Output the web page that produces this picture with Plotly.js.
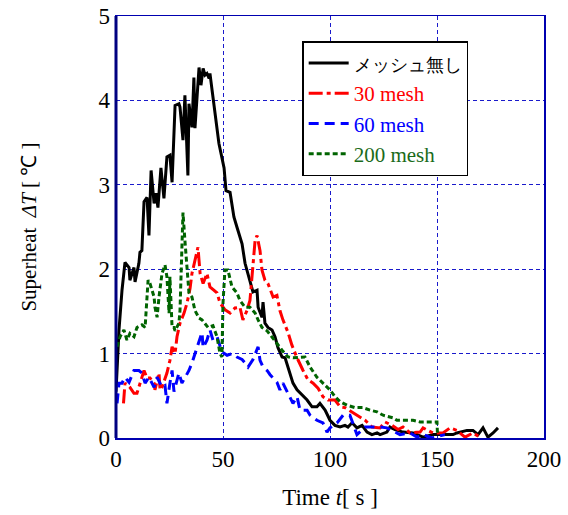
<!DOCTYPE html>
<html>
<head>
<meta charset="utf-8">
<script src="https://cdn.plot.ly/plotly-3.0.1.min.js"></script>
<style>html,body{margin:0;padding:0;background:#fff;}#chart{width:568px;height:515px;}</style>
</head>
<body>
<div id="chart"></div>
<script>
// ---- Data ----
const seriesNames = ['メッシュ無し', '30 mesh', '60 mesh', '200 mesh'];

const tNone = [0, 0.5, 1.4, 2.8, 4.2, 6.1, 6.5, 8.4, 8.9, 10.7, 11.2, 12.1, 13.1, 14.5, 15.4, 16.4, 17.8, 18.7, 19.6, 21.0, 22.4, 23.8, 25.2, 26.2, 27.6, 29.4, 29.9, 31.3, 32.2, 33.6, 34.1, 35.5, 36.4, 36.9, 38.3, 38.8, 39.7, 40.7, 41.6, 42.5, 43.5, 43.9, 44.9, 46.3, 48.1, 50.5, 51.4, 53.3, 55.1, 56.5, 58.9, 60.3, 62.6, 64.0, 65.9, 66.4, 68.2, 68.7, 69.6, 71.0, 72.9, 74.3, 75.7, 77.6, 79.0, 80.4, 82.7, 84.6, 86.9, 89.3, 91.6, 93.9, 95.3, 97.7, 100, 102.3, 104.7, 107, 108.4, 110.3, 112.6, 115, 117.3, 119.6, 122, 123.4, 126.6, 128, 130.4, 134.1, 138.8, 143.5, 148.1, 152.8, 157.5, 159.3, 164, 166.8, 169.2, 171.5, 173.8, 176.2, 178.5];
const vNone = [0.55, 0.8, 1.28, 1.75, 2.08, 2.02, 1.87, 2.02, 1.85, 2.07, 2.2, 2.22, 2.8, 2.85, 2.4, 3.17, 2.78, 2.9, 2.73, 3.2, 2.84, 3.33, 3.35, 3.03, 3.94, 3.96, 3.92, 3.53, 4.06, 3.11, 3.96, 3.68, 4.27, 3.67, 4.2, 4.39, 4.18, 4.38, 4.3, 4.32, 4.26, 4.32, 4.12, 3.85, 3.49, 3.2, 2.93, 2.91, 2.62, 2.5, 2.3, 2.07, 1.87, 1.73, 1.75, 1.55, 1.43, 1.61, 1.36, 1.31, 1.28, 1.2, 1.07, 0.96, 0.95, 0.84, 0.65, 0.57, 0.51, 0.45, 0.37, 0.37, 0.41, 0.33, 0.21, 0.15, 0.13, 0.15, 0.13, 0.18, 0.12, 0.15, 0.07, 0.04, 0.06, 0.04, 0.07, 0.13, 0.1, 0.07, 0.06, 0.01, 0.04, 0.04, 0.04, 0.06, 0.09, 0.09, 0.04, 0.12, 0.01, 0.06, 0.12];

const t30 = [3.5, 4.2, 6.5, 8.4, 9.8, 13.1, 14.5, 15.9, 17.8, 18.2, 20.1, 20.6, 21.5, 23.8, 25.2, 26.2, 27.6, 28.5, 29.9, 31.8, 33.2, 34.6, 35.5, 38.3, 39.3, 40.7, 42.5, 43.9, 47.2, 48.6, 50.9, 53.3, 55.6, 57.9, 59.3, 61.2, 62.6, 64.0, 65.0, 65.9, 67.3, 68.2, 69.6, 71.0, 73.4, 75.2, 76.6, 78.0, 80.4, 82.2, 84.6, 87.4, 89.7, 92.1, 94.4, 96.7, 99.1, 102.3, 104.7, 107, 110.3, 113.1, 116.4, 119.6, 123.4, 125.7, 129, 131.8, 134.1, 137.4, 142.1, 143.5, 148.1, 152.8, 156.1, 159.3, 163.1, 166.8, 170.1];
const v30 = [0.41, 0.65, 0.6, 0.53, 0.53, 0.8, 0.71, 0.71, 0.65, 0.57, 0.77, 0.57, 0.6, 0.77, 0.92, 1.08, 1.0, 1.2, 1.36, 1.48, 1.6, 1.77, 1.95, 2.26, 1.95, 1.83, 1.95, 1.79, 1.72, 1.6, 1.52, 1.48, 1.54, 1.55, 1.4, 1.51, 1.63, 2.07, 2.34, 2.4, 2.22, 1.99, 1.87, 1.83, 1.67, 1.69, 1.51, 1.4, 1.25, 1.1, 0.95, 0.8, 0.69, 0.65, 0.59, 0.49, 0.45, 0.45, 0.37, 0.36, 0.31, 0.27, 0.21, 0.13, 0.12, 0.19, 0.15, 0.1, 0.13, 0.06, 0.07, 0.12, 0.06, 0.06, 0.12, 0.09, 0.01, 0.06, 0.01];

const t60 = [0.5, 1.4, 2.8, 4.2, 6.1, 8.4, 10.7, 12.1, 13.6, 15.4, 16.8, 17.8, 19.2, 21.5, 22.9, 23.8, 25.2, 26.2, 27.1, 28.5, 29.4, 30.8, 32.2, 34.1, 35.5, 36.9, 38.8, 40.2, 40.7, 42.5, 43.9, 45.3, 47.2, 49.5, 51.9, 54.2, 56.5, 58.9, 60.3, 61.7, 64.0, 65.9, 66.4, 67.3, 68.7, 70.6, 72.0, 75.2, 76.6, 78.0, 80.4, 82.7, 84.6, 86.0, 89.3, 90.7, 93.9, 96.7, 98.6, 100, 103.3, 106.1, 109.3, 112.6, 116.4, 119.6, 123.4, 126.6, 130.4, 132.7, 137.4, 140.7, 143.5, 147.7, 153.7];
const v60 = [0.41, 0.65, 0.65, 0.72, 0.66, 0.8, 0.8, 0.77, 0.65, 0.72, 0.65, 0.6, 0.72, 0.6, 0.62, 0.41, 0.65, 0.8, 0.55, 0.69, 0.77, 0.65, 0.72, 0.8, 0.89, 1.0, 1.16, 1.25, 1.07, 1.16, 1.28, 1.16, 1.2, 1.02, 0.98, 1.0, 0.96, 0.93, 0.89, 0.84, 0.93, 1.04, 1.08, 0.92, 0.84, 0.8, 0.75, 0.66, 0.57, 0.65, 0.53, 0.41, 0.49, 0.33, 0.33, 0.27, 0.21, 0.18, 0.07, 0.12, 0.18, 0.27, 0.27, 0.04, 0.13, 0.13, 0.13, 0.12, 0.07, 0.04, 0.06, 0.01, 0.04, 0.0, 0.04];

const t200 = [0.5, 1.4, 1.9, 3.7, 5.1, 6.5, 8.4, 9.8, 12.1, 13.6, 14.5, 15.0, 15.9, 16.8, 17.8, 18.2, 19.2, 20.1, 21.5, 22.9, 23.8, 24.8, 25.2, 26.2, 27.1, 27.6, 29.4, 29.9, 30.8, 31.3, 32.2, 33.2, 34.1, 35.5, 36.9, 38.8, 40.2, 43.0, 45.3, 47.2, 48.6, 49.5, 50.0, 50.9, 52.3, 54.2, 56.5, 57.9, 60.3, 62.6, 65.0, 66.4, 68.2, 70.6, 72.9, 75.2, 77.6, 80.4, 82.7, 86.0, 88.3, 90.7, 93.9, 96.7, 100, 102.3, 104.7, 107.9, 111.7, 115.4, 118.7, 122, 124.8, 129.4, 131.3, 135, 138.8, 142.1, 145.3, 150, 150.2];
const v200 = [1.08, 1.16, 1.2, 1.28, 1.16, 1.24, 1.2, 1.31, 1.34, 1.31, 1.67, 1.87, 1.83, 1.75, 1.67, 1.55, 1.43, 1.67, 1.95, 2.05, 1.91, 1.48, 1.91, 1.31, 1.31, 1.27, 1.36, 1.51, 2.5, 2.67, 2.34, 1.99, 1.72, 1.67, 1.51, 1.42, 1.4, 1.31, 1.33, 1.2, 1.0, 0.96, 1.6, 1.99, 1.99, 1.79, 1.72, 1.63, 1.55, 1.55, 1.48, 1.4, 1.31, 1.27, 1.2, 1.12, 1.04, 0.96, 0.95, 0.96, 0.96, 0.84, 0.72, 0.65, 0.57, 0.49, 0.43, 0.39, 0.36, 0.36, 0.33, 0.31, 0.27, 0.24, 0.21, 0.21, 0.21, 0.19, 0.19, 0.19, 0.06];

const xTicks = [0, 50, 100, 150, 200];
const yTicks = [0, 1, 2, 3, 4, 5];

// ---- Styling ----
const serif = 'Liberation Serif, Times New Roman, serif';
const gridBlue = '#1a1acc';
const frameBlue = '#0000b0';

const traces = [
  {x: tNone, y: vNone, color: '#000000', dash: 'solid', label: '<span style="font-size:18px">' + seriesNames[0] + '</span>'},
  {x: t30, y: v30, color: '#ff0000', dash: '14px,4px,4px,4px', label: '<span style="color:#ff0000">' + seriesNames[1] + '</span>'},
  {x: t60, y: v60, color: '#0000ff', dash: '10px,6px', label: '<span style="color:#0000ff">' + seriesNames[2] + '</span>'},
  {x: t200, y: v200, color: '#006400', dash: '5px,3px', label: '<span style="color:#1a6b1a">' + seriesNames[3] + '</span>'}
].map(s => ({
  type: 'scatter', mode: 'lines', x: s.x, y: s.y, name: s.label,
  line: {color: s.color, width: 3, dash: s.dash}
}));

const layout = {
  width: 568, height: 515,
  margin: {l: 116, r: 24, t: 16, b: 77},
  paper_bgcolor: '#ffffff', plot_bgcolor: '#ffffff',
  font: {family: serif, size: 22, color: '#000'},
  showlegend: true,
  legend: {
    x: 0.435, y: 0.94, xanchor: 'left', yanchor: 'top',
    bgcolor: '#ffffff', bordercolor: '#000000', borderwidth: 1.5,
    font: {family: serif, size: 21, color: '#000'},
    tracegroupgap: 0, itemwidth: 40
  },
  xaxis: {
    range: [0, 200], tickvals: xTicks, ticktext: xTicks.map(String),
    showgrid: true, gridcolor: gridBlue, griddash: '4px,3px', gridwidth: 1,
    showline: true, linecolor: frameBlue, linewidth: 1.5, mirror: true,
    zeroline: false, ticks: '', tickfont: {family: serif, size: 23, color: '#000'},
    title: {text: 'Time <i>t</i>[ s ]', font: {family: serif, size: 23, color: '#000'}, standoff: 18}
  },
  yaxis: {
    range: [0, 5], tickvals: yTicks, ticktext: yTicks.map(String),
    showgrid: true, gridcolor: gridBlue, griddash: '4px,3px', gridwidth: 1,
    showline: true, linecolor: frameBlue, linewidth: 1.5, mirror: true,
    zeroline: false, ticks: '', tickfont: {family: serif, size: 23, color: '#000'},
    title: {text: 'Superheat  <i>ΔT</i> [ ℃ ]', font: {family: serif, size: 21, color: '#000'}, standoff: 56}
  },
  shapes: [
    {type: 'line', xref: 'paper', yref: 'paper', x0: 0, x1: 0, y0: 0, y1: 1,
     line: {color: '#000080', width: 3}}
  ]
};

Plotly.newPlot('chart', traces, layout, {staticPlot: true, displayModeBar: false});
</script>
</body>
</html>
